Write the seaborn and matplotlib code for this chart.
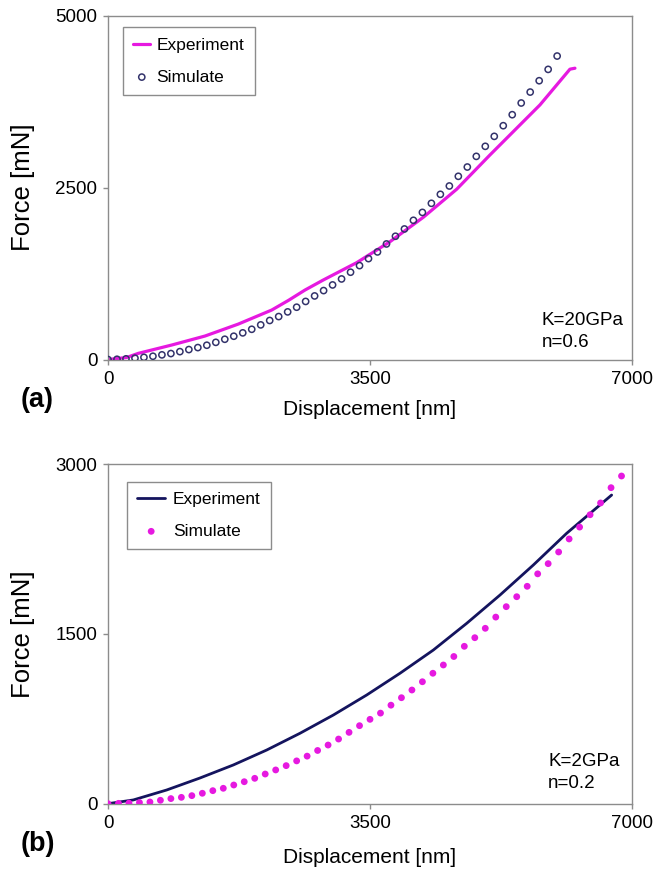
import matplotlib
matplotlib.use("Agg")
import matplotlib.pyplot as plt
import seaborn as sns

# ---- panel (a): K=20GPa, n=0.6 ----
exp_a_x = [0, 250, 405, 851, 1296, 1741, 2187, 2410, 2632, 2876, 3322, 3767, 4212, 4658, 5103,
           5326, 5771, 6171, 6238]
exp_a_y = [0, 30, 90, 211, 342, 516, 720, 860, 1011, 1157, 1409, 1714, 2069, 2477, 2976,
           3219, 3704, 4223, 4237]

sim_a_x = [0, 120, 240, 360, 480, 600, 720, 840, 960, 1080, 1200, 1320, 1440, 1560, 1680,
           1800, 1920, 2040, 2160, 2280, 2400, 2520, 2640, 2760, 2880, 3000, 3120, 3240, 3360,
           3480, 3600, 3720, 3840, 3960, 4080, 4200, 4320, 4440, 4560, 4680, 4800, 4920, 5040,
           5160, 5280, 5400, 5520, 5640, 5760, 5880, 6000]
sim_a_y = [0, 4, 10, 20, 32, 48, 68, 87, 115, 145, 174, 208, 250, 295, 339, 388, 440, 504, 568,
           625, 693, 761, 845, 925, 1003, 1085, 1172, 1270, 1366, 1468, 1565, 1681, 1793, 1899,
           2025, 2140, 2272, 2403, 2524, 2665, 2800, 2955, 3101, 3246, 3401, 3561, 3731, 3890,
           4055, 4220, 4414]

# ---- panel (b): K=2GPa, n=0.2 ----
exp_b_x = [0, 338, 784, 1229, 1674, 2120, 2565, 3010, 3456, 3901, 4346, 4792, 5237, 5682, 6127, 6728]
exp_b_y = [0, 33, 121, 227, 342, 474, 622, 783, 960, 1152, 1357, 1593, 1843, 2108, 2388, 2726]

sim_b_x = [0, 140, 280, 420, 560, 700, 840, 980, 1120, 1260, 1400, 1540, 1680, 1820, 1960,
           2100, 2240, 2380, 2520, 2660, 2800, 2940, 3080, 3220, 3360, 3500, 3640, 3780, 3920,
           4060, 4200, 4340, 4480, 4620, 4760, 4900, 5040, 5180, 5320, 5460, 5600, 5740, 5880,
           6020, 6160, 6300, 6440, 6580, 6720, 6860]
sim_b_y = [0, 3, 5, 10, 15, 30, 45, 56, 71, 92, 115, 136, 165, 194, 224, 262, 298, 336, 378,
           420, 470, 518, 571, 630, 689, 745, 800, 870, 936, 1004, 1077, 1152, 1225, 1300, 1390,
           1466, 1549, 1648, 1740, 1828, 1920, 2030, 2120, 2223, 2338, 2443, 2552, 2656, 2791, 2894]

MAGENTA = "#e619e0"
NAVY = "#14145e"
GRID = "#8c8c8c"

sns.set_style("white")
plt.rcParams['font.family'] = ['Liberation Sans', 'DejaVu Sans']
plt.rcParams['text.color'] = 'black'
plt.rcParams['axes.labelcolor'] = 'black'

fig = plt.figure(figsize=(6.68, 8.75), dpi=100)
ax_a = fig.add_axes([0.1617, 0.5891, 0.7844, 0.3929])
ax_b = fig.add_axes([0.1617, 0.0815, 0.7844, 0.3882])


def style_axes(ax, ymax, note, note_x, note_y, xlab_y):
    ax.set_xlim(0, 7000)
    ax.set_ylim(0, ymax)
    ax.set_xticks([0, 3500, 7000])
    ax.set_yticks([0, ymax / 2, ymax])
    ax.set_yticklabels([str(int(v)) for v in [0, ymax / 2, ymax]])
    for sp in ax.spines.values():
        sp.set_color(GRID)
        sp.set_linewidth(1.0)
    ax.tick_params(axis='both', direction='out', length=3.6, width=1, color=GRID,
                   labelcolor='black', labelsize=13.5, left=True, bottom=True)
    ax.tick_params(axis='y', pad=4.0)
    ax.tick_params(axis='x', pad=4.5)
    ax.set_xlabel("Displacement [nm]", fontsize=15)
    ax.xaxis.set_label_coords(0.5, xlab_y)
    ax.set_ylabel("Force [mN]", fontsize=18.5)
    ax.yaxis.set_label_coords(-0.14, 0.5)
    lines = note.split("\n")
    ax.text(note_x, note_y + 0.064, lines[0], transform=ax.transAxes, fontsize=13.5,
            ha='left', va='baseline')
    ax.text(note_x, note_y, lines[1], transform=ax.transAxes, fontsize=13.5,
            ha='left', va='baseline')


sns.lineplot(x=exp_a_x, y=exp_a_y, ax=ax_a, color=MAGENTA, linewidth=2.3,
             label="Experiment", sort=False)
sns.scatterplot(x=sim_a_x, y=sim_a_y, ax=ax_a, marker='o', s=20, facecolor='none',
                edgecolor="#33336b", linewidth=1.1, label="Simulate", zorder=3)
style_axes(ax_a, 5000, "K=20GPa\nn=0.6", 0.828, 0.036, -0.118)

sns.lineplot(x=exp_b_x, y=exp_b_y, ax=ax_b, color=NAVY, linewidth=2.0,
             label="Experiment", sort=False)
sns.scatterplot(x=sim_b_x, y=sim_b_y, ax=ax_b, marker='o', s=24, color=MAGENTA,
                edgecolor='none', label="Simulate", zorder=3)
style_axes(ax_b, 3000, "K=2GPa\nn=0.2", 0.840, 0.046, -0.13)

for ax, anchor, hl, hp in [(ax_a, (0.028, 0.966), 1.0, 0.35), (ax_b, (0.036, 0.948), 1.6, 0.45)]:
    leg = ax.legend(loc='upper left', bbox_to_anchor=anchor, borderaxespad=0,
                    fontsize=12.5, fancybox=False, framealpha=1, edgecolor=GRID,
                    handlelength=hl, handletextpad=hp, labelspacing=0.95,
                    borderpad=0.6)
    leg.get_frame().set_linewidth(1.0)
    for t in leg.get_texts():
        t.set_color('black')

fig.text(0.031, 0.543, "(a)", fontsize=19.5, fontweight='bold', va='center', ha='left')
fig.text(0.031, 0.035, "(b)", fontsize=19.5, fontweight='bold', va='center', ha='left')

fig.savefig("out.png", dpi=100)
